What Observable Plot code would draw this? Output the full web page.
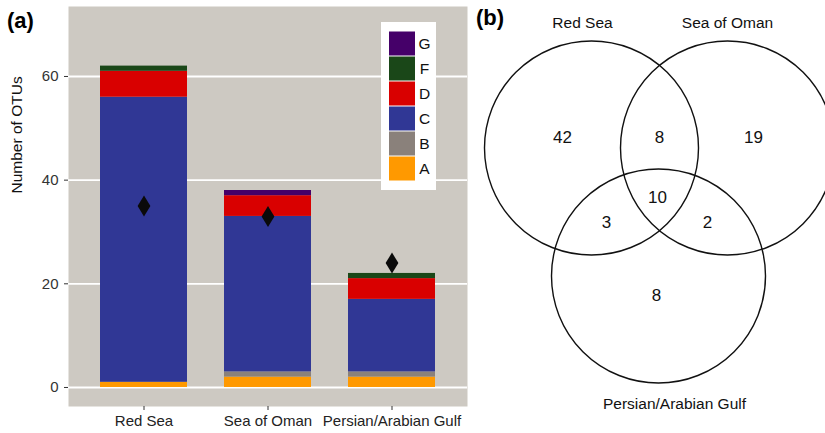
<!DOCTYPE html>
<html>
<head>
<meta charset="utf-8">
<script src="https://cdn.jsdelivr.net/npm/d3@7"></script>
<script src="https://cdn.jsdelivr.net/npm/@observablehq/plot@0.6"></script>
<style>
  html, body { margin: 0; padding: 0; background: white; }
  #wrap { position: relative; width: 825px; height: 433px; overflow: hidden; font-family: "Liberation Sans", Arial, Helvetica, sans-serif; }
  .abs { position: absolute; }
  .panel-tag { position: absolute; font-weight: bold; font-size: 22px; line-height: 1; color: #000; }
</style>
</head>
<body>
<div id="wrap">
  <div class="panel-tag" style="left:7px; top:10px;">(a)</div>
  <div class="panel-tag" style="left:476px; top:7px;">(b)</div>
</div>
<script>
// ---------- Data ----------
const sites = ["Red Sea", "Sea of Oman", "Persian/Arabian Gulf"];
const groups = ["A", "B", "C", "D", "F", "G"];
const groupColors = ["#ff9900", "#8a817b", "#303795", "#d90000", "#1a4718", "#450069"];
const countA = [1, 2, 2];
const countB = [0, 1, 1];
const countC = [55, 30, 14];
const countD = [5, 4, 4];
const countF = [1, 0, 1];
const countG = [0, 1, 0];
const diamondValues = [35, 33, 24];
const yTicks = [0, 20, 40, 60];
const yLabel = "Number of OTUs";

// Venn diagram (b): set circles and region counts
const vennSets = ["Red Sea", "Sea of Oman", "Persian/Arabian Gulf"];
const vennCx = [121, 257, 188];
const vennCy = [147.5, 147.5, 275.5];
const vennR = 107;
const vennLabelX = [112, 257, 204];
const vennLabelY = [23, 23, 404];
const regionCounts = [42, 8, 19, 10, 3, 2, 8];
const regionX = [92, 189, 283, 187, 136, 237, 186];
const regionY = [137, 137, 137, 197, 222, 222, 295];

// ---------- Build tables ----------
const countsByGroup = { A: countA, B: countB, C: countC, D: countD, F: countF, G: countG };
const rows = [];
sites.forEach((s, i) => {
  groups.forEach(g => {
    const n = countsByGroup[g][i];
    if (n > 0) rows.push({ site: s, group: g, n });
  });
});
const diamonds = sites.map((s, i) => ({ site: s, value: diamondValues[i] }));

const diamondSymbol = {
  draw(ctx) {
    ctx.moveTo(0, -10.5);
    ctx.lineTo(6.4, 0);
    ctx.lineTo(0, 10.5);
    ctx.lineTo(-6.4, 0);
    ctx.closePath();
  }
};

const wrap = document.getElementById("wrap");
const font = "'Liberation Sans', Arial, Helvetica, sans-serif";

// ---------- Panel (a) ----------
const plotA = Plot.plot({
  width: 470,
  height: 433,
  marginLeft: 68,
  marginRight: 3,
  marginTop: 6,
  marginBottom: 27,
  style: { fontFamily: font, fontSize: "15px", color: "#333", background: "transparent", overflow: "visible" },
  x: { domain: sites, paddingInner: 0.3, paddingOuter: 0.25 },
  y: { domain: [-3.67, 73.5] },
  color: { domain: groups, range: groupColors },
  marks: [
    Plot.frame({ fill: "#cdc9c2", stroke: null }),
    Plot.ruleY(yTicks, { stroke: "white", strokeWidth: 1.8 }),
    Plot.barY(rows, { x: "site", y: "n", fill: "group" }),
    Plot.dot(diamonds, { x: "site", y: "value", symbol: diamondSymbol, fill: "#0a0a0a", stroke: null }),
    Plot.axisY({ ticks: yTicks, tickSize: 4, tickPadding: 6, label: null, stroke: "#333", fill: "#333" }),
    Plot.axisX({ tickSize: 4, tickPadding: 5, label: null, stroke: "#333", fill: "#222" }),
    Plot.text([yLabel], { text: d => d, frameAnchor: "left", rotate: -90, dx: -51, dy: -13, fill: "#111", fontSize: 15.5 })
  ]
});
plotA.classList.add("abs");
plotA.style.left = "0px";
plotA.style.top = "0px";
wrap.appendChild(plotA);

// ---------- Legend inside panel (a) ----------
const legend = Plot.plot({
  width: 55,
  height: 168,
  marginLeft: 8,
  marginRight: 21,
  marginTop: 6,
  marginBottom: 7,
  style: { fontFamily: font, fontSize: "15.5px", background: "white", overflow: "visible" },
  y: { domain: groups.slice().reverse(), padding: 0, axis: null },
  color: { domain: groups, range: groupColors },
  marks: [
    Plot.cell(groups, { y: d => d, fill: d => d, insetTop: 0.5, insetBottom: 0.5 }),
    Plot.text(groups, { y: d => d, text: d => d, frameAnchor: "right", dx: 9, textAnchor: "middle", fill: "#111" })
  ]
});
legend.classList.add("abs");
legend.style.left = "381px";
legend.style.top = "22px";
wrap.appendChild(legend);

// ---------- Panel (b) Venn ----------
const circles = vennSets.map((s, i) => ({ set: s, cx: vennCx[i], cy: vennCy[i], lx: vennLabelX[i], ly: vennLabelY[i] }));
const regions = regionCounts.map((c, i) => ({ count: c, x: regionX[i], y: regionY[i] }));

const plotB = Plot.plot({
  width: 355,
  height: 433,
  margin: 0,
  style: { fontFamily: font, background: "transparent", overflow: "visible" },
  x: { domain: [0, 355], range: [0, 355], axis: null },
  y: { domain: [0, 433], range: [0, 433], axis: null },
  marks: [
    Plot.dot(circles, { x: "cx", y: "cy", r: vennR, stroke: "#111", strokeWidth: 1.4, fill: "none" }),
    Plot.text(circles, { x: "lx", y: "ly", text: "set", fontSize: 15.5, fill: "#111" }),
    Plot.text(regions, { x: "x", y: "y", text: d => String(d.count), fontSize: 17, fill: "#111" })
  ]
});
plotB.classList.add("abs");
plotB.style.left = "470px";
plotB.style.top = "0px";
wrap.appendChild(plotB);
</script>
</body>
</html>
